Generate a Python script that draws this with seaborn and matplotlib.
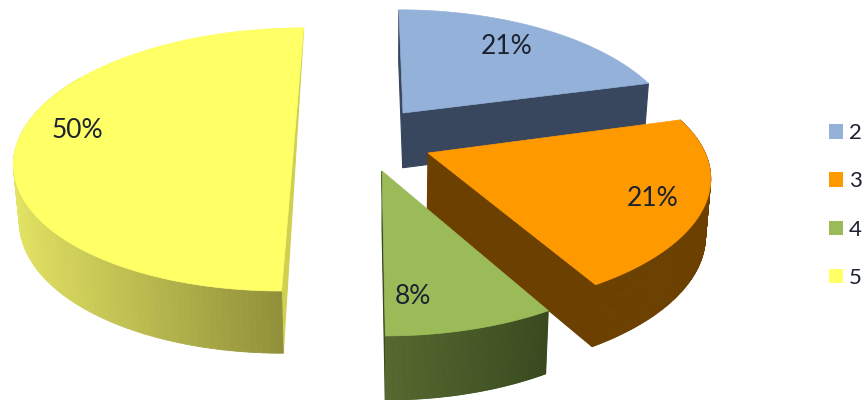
import numpy as np
import matplotlib
matplotlib.use("Agg")
import matplotlib.pyplot as plt
from matplotlib.collections import PolyCollection
from matplotlib.colors import to_rgb
from matplotlib.patches import Patch, Polygon
import seaborn as sns

# Survey answers and their shares in percent
categories = ["2", "3", "4", "5"]
shares = [21, 21, 8, 50]

top_colors = ["#93B1D9", "#FF9900", "#9BBB59", "#FFFF66"]
side_left = ["#38465E", "#6B4000", "#55692E", "#E2E263"]
side_right = ["#38465E", "#6B4000", "#3A4A20", "#8A8A38"]
cut_colors = ["#38465E", "#6B4000", "#3A4A20", "#CFCF50"]

# Where each exploded slice has its tip, with its lean, shear and radial scale
tips = [(403, 113), (428, 153), (382, 171), (295, 131)]
leans = [0.04, 0.03, 0.02, -0.084]
shears = [0.0, -0.015, 0.0, 0.0]
scales_x = [0.965, 0.99, 0.99, 0.98]
scales_y = [0.98, 0.97, 1.01, 0.98]
label_pos = [(507, 46), (653, 199), (413, 297), (77, 130)]

RX, RY, PERSPECTIVE = 278, 128, 0.216

sns.set_theme(style="white")
plt.rcParams["font.family"] = ["Lato", "DejaVu Sans"]


def rim(theta, i):
    """Project clockwise pie angles (0 = back of the pie) on to the canvas."""
    w = 1 + PERSPECTIVE * np.cos(theta)
    dx = RX * scales_x[i] * np.sin(theta) / w
    dy = -RY * scales_y[i] * np.cos(theta) / w
    return tips[i][0] + dx + leans[i] * dy, tips[i][1] + dy + shears[i] * dx


def lower(x, y):
    """Matching point on the underside of the extruded pie."""
    return x - (x - 385) * 0.016, y + 50 + 0.042 * y


fig, ax = plt.subplots(figsize=(8.66, 4.0), dpi=100)
fig.subplots_adjust(0, 0, 1, 1)
ax.set_xlim(0, 866)
ax.set_ylim(400, 0)
ax.axis("off")

edges = np.radians(np.concatenate([[0], np.cumsum(shares)]) * 3.6)

# Back slices first so the nearer ones overlap them
for i in [0, 3, 1, 2]:
    theta = np.linspace(edges[i], edges[i + 1], 160)
    x, y = rim(theta, i)
    lx, ly = lower(x, y)
    tx, ty = tips[i]
    ltx, lty = lower(tx, ty)

    # Flat cut faces running in from the rim to the tip
    if shares[i] >= 50:
        # A half pie shows only a narrow sliver of its straight cut
        faces = [[(x[-1], y[-1]), (x[0], y[0]), (lx[0], ly[0])]]
    else:
        ends = (0, -1) if i == 0 else (-1,)
        faces = [[(tx, ty), (x[k], y[k]), (lx[k], ly[k]), (ltx, lty)] for k in ends]
    for face in faces:
        ax.add_patch(Polygon(face, closed=True, fc=cut_colors[i], ec=cut_colors[i], lw=0.8))

    # Curved outer wall, shaded left to right
    c0, c1 = np.array(to_rgb(side_left[i])), np.array(to_rgb(side_right[i]))
    span = max(np.ptp(x), 1)
    quads, shades = [], []
    for j in range(len(x) - 1):
        if np.cos(theta[j]) < 0.45:
            quads.append([(x[j], y[j]), (x[j + 1], y[j + 1]),
                          (lx[j + 1], ly[j + 1]), (lx[j], ly[j])])
            shades.append(c0 + (c1 - c0) * (x[j] - x.min()) / span)
    if i != 0:
        ax.add_collection(PolyCollection(quads, facecolors=shades, edgecolors=shades, linewidths=0.6))

    # Top surface
    ax.add_patch(Polygon(np.column_stack([np.r_[tx, x], np.r_[ty, y]]), closed=True,
                         fc=top_colors[i], ec=top_colors[i], lw=0.5))

    ax.text(*label_pos[i], f"{shares[i]}%", ha="center", va="center",
            fontsize=19, color="#1C2230")

handles = [Patch(fc=c, ec="none") for c in top_colors]
ax.legend(handles, categories, loc="center left", bbox_to_anchor=(0.9575, 0.486),
          frameon=False, fontsize=16, labelspacing=1.27, handlelength=0.64,
          handleheight=0.64, handletextpad=0.26, borderpad=0, borderaxespad=0,
          labelcolor="#1C2230")

fig.savefig("out.png", dpi=100, facecolor="white")
